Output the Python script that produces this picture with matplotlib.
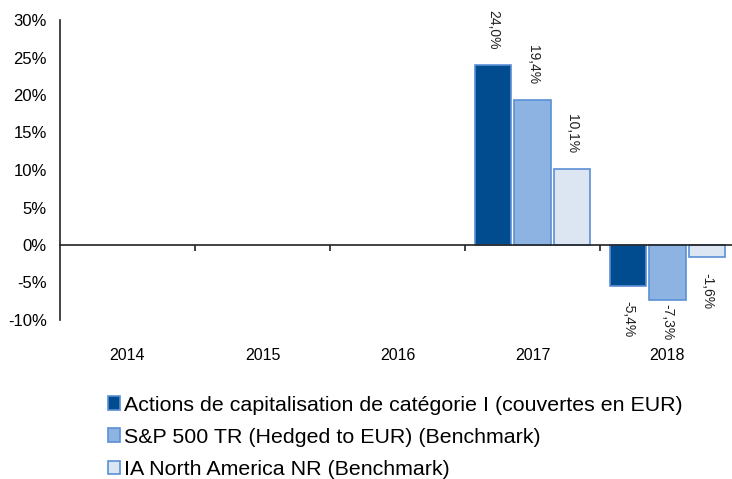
import matplotlib
matplotlib.use("Agg")
import matplotlib.pyplot as plt
from matplotlib.patches import Patch
import numpy as np

plt.rcParams['font.family'] = ['Liberation Sans', 'DejaVu Sans']

years = ["2014", "2015", "2016", "2017", "2018"]
series_names = [
    "Actions de capitalisation de catégorie I (couvertes en EUR)",
    "S&P 500 TR (Hedged to EUR) (Benchmark)",
    "IA North America NR (Benchmark)",
]
fund = [np.nan, np.nan, np.nan, 24.0, -5.4]
sp500 = [np.nan, np.nan, np.nan, 19.4, -7.3]
ia_na = [np.nan, np.nan, np.nan, 10.1, -1.6]
yticks = [-10, -5, 0, 5, 10, 15, 20, 25, 30]

colors = ["#004C8F", "#8DB3E2", "#DCE6F2"]
edge = "#5B8FD6"

fig = plt.figure(figsize=(7.32, 4.79), dpi=100)
ax = fig.add_axes([60/732, 1 - 320/479, 675/732, 300/479])

x = np.arange(len(years))
w = 0.267
gap = 0.025
offsets = [-(w + gap), 0, (w + gap)]
label_gap = 2.1        # gap between bar end and label, in data units
neg_label_floor = -7.8  # lowest start for labels under negative bars
for vals, off, c in zip([fund, sp500, ia_na], offsets, colors):
    v = np.array(vals, dtype=float)
    ax.bar(x + off, v, width=w, color=c, edgecolor=edge, linewidth=1.2, zorder=2)
    for xi, val in zip(x + off, v):
        if np.isnan(val):
            continue
        txt = f"{val:.1f}%".replace(".", ",")
        if val >= 0:
            ax.text(xi, val + label_gap, txt, rotation=270, ha="center", va="bottom",
                    fontsize=10, color="#222222")
        else:
            ypos = max(val - label_gap, min(neg_label_floor, val - 0.6))
            ax.text(xi, ypos, txt, rotation=270, ha="center", va="top",
                    fontsize=10, color="#222222")

ax.set_xlim(-0.5, len(years) - 0.5)
ax.set_ylim(-10, 30)
ax.set_yticks(yticks)
ax.set_yticklabels([f"{t}%" for t in yticks])
ax.tick_params(axis="y", length=0, pad=9.5, labelsize=12)

for s in ["top", "right"]:
    ax.spines[s].set_visible(False)
ax.spines["left"].set_linewidth(1.2)
ax.spines["left"].set_color("#222222")
ax.spines["bottom"].set_position(("data", 0))
ax.spines["bottom"].set_linewidth(1.2)
ax.spines["bottom"].set_color("#222222")
ax.spines["bottom"].set_zorder(3)

ax.set_xticks(x)
ax.set_xticklabels(years)
ax.set_xticks(np.arange(0.5, len(years) - 0.5), minor=True)
ax.tick_params(axis="x", which="major", length=0, pad=74, labelsize=11.5)
ax.tick_params(axis="x", which="minor", length=4, width=1.2, direction="out", color="#222222")

handles = [Patch(facecolor=c, edgecolor=edge, linewidth=1.2) for c in colors]
fig.legend(handles, series_names, loc="upper left", bbox_to_anchor=(99/732, 1 - 387/479),
           frameon=False, fontsize=15.4, handlelength=0.6, handleheight=0.6,
           handletextpad=0.15, labelspacing=0.62, borderaxespad=0)

fig.savefig("out.png", dpi=100)
